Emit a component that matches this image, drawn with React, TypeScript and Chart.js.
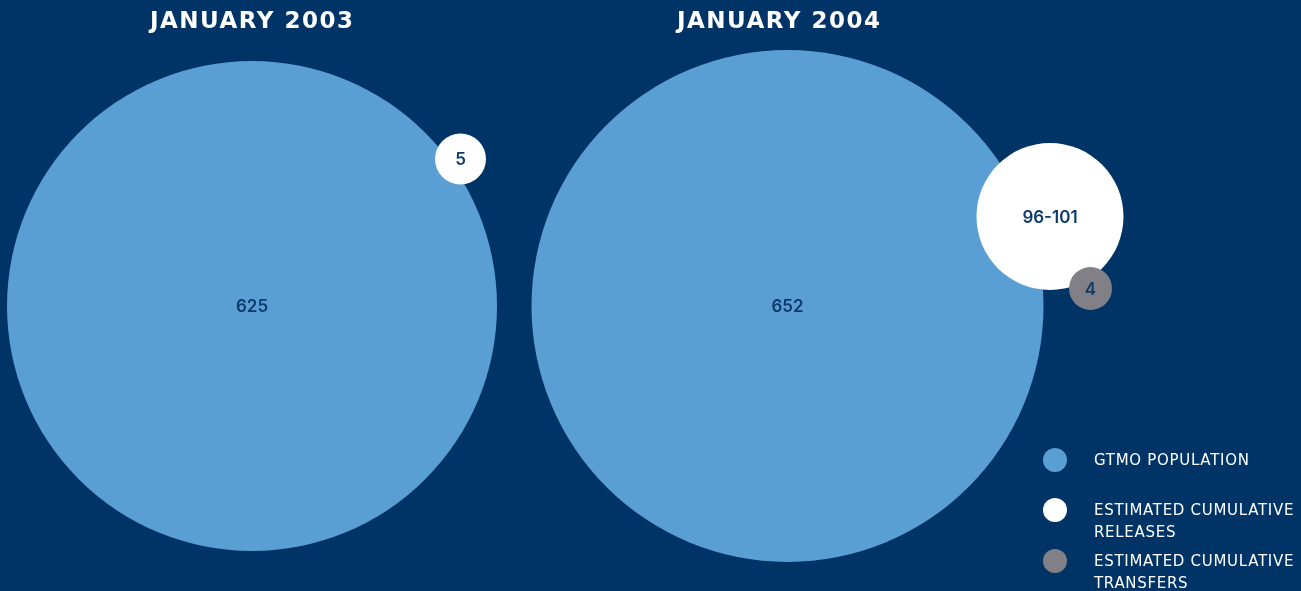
import React, { useEffect, useRef } from "react";
import { Chart, registerables } from "chart.js";

Chart.register(...registerables);

// ---- data ----
const periods = ["JANUARY 2003", "JANUARY 2004"];
const gtmoPopulation = [625, 652];
const releaseValues = [5, 98.5];
const releaseLabels = ["5", "96-101"];
const transferValues = [null, 4];
const transferLabels = ["", "4"];
const legendLabels = [
  ["GTMO POPULATION"],
  ["ESTIMATED CUMULATIVE", "RELEASES"],
  ["ESTIMATED CUMULATIVE", "TRANSFERS"],
];

// ---- layout (layout units on hidden 0..1301 × 0..591 scales) ----
const periodCenterX = [251.5, 778.5];
const popCenter = [
  { x: 252, y: 306 },
  { x: 787.5, y: 306 },
];
const releaseCenter = [
  { x: 460.5, y: 159 },
  { x: 1050, y: 216.5 },
];
const transferCenter = [null, { x: 1090.5, y: 288.5 }];
const popRadius = [245, 256];
const releaseRadius = [25.5, 73.5];
const transferRadius = [0, 21.5];

const BG = "#003466";
const BLUE = "#5a9fd3";
const WHITE = "#ffffff";
const GRAY = "#808086";
const NAVY = "#0c3b6c";

const W = 1301;
const H = 591;

const labelsPlugin = {
  id: "bubbleLabels",
  afterDatasetsDraw(chart: any) {
    const ctx = chart.ctx;
    const xs = chart.scales.x;
    const ys = chart.scales.y;
    const sx = chart.width / W;
    ctx.save();
    // titles
    ctx.fillStyle = "#ffffff";
    ctx.textAlign = "center";
    ctx.textBaseline = "middle";
    ctx.font = `bold ${Math.round(23 * sx)}px "DejaVu Sans", sans-serif`;
    (ctx as any).letterSpacing = "1.5px";
    periods.forEach((p, i) => {
      ctx.fillText(p, xs.getPixelForValue(periodCenterX[i]) + 0.75, ys.getPixelForValue(22));
    });
    (ctx as any).letterSpacing = "0px";
    // bubble labels
    ctx.fillStyle = NAVY;
    ctx.font = `600 ${17 * sx}px Inter, "DejaVu Sans", sans-serif`;
    chart.data.datasets.forEach((ds: any, di: number) => {
      const meta = chart.getDatasetMeta(di);
      meta.data.forEach((el: any, i: number) => {
        const raw = ds.data[i];
        if (!raw || !raw.label) return;
        ctx.fillText(raw.label, el.x, el.y + 1);
      });
    });
    // legend
    const colors = [BLUE, WHITE, GRAY];
    const legendY = [460, 510, 561];
    ctx.textAlign = "left";
    ctx.font = `${15 * sx}px "DejaVu Sans", sans-serif`;
    (ctx as any).letterSpacing = "0.7px";
    legendLabels.forEach((lines, i) => {
      const cy = ys.getPixelForValue(legendY[i]);
      ctx.fillStyle = colors[i];
      ctx.beginPath();
      ctx.arc(xs.getPixelForValue(1055), cy, 12 * sx, 0, Math.PI * 2);
      ctx.fill();
      ctx.fillStyle = "#ffffff";
      lines.forEach((ln, j) => {
        ctx.fillText(ln, xs.getPixelForValue(1094), cy + j * 22 * sx + 1);
      });
    });
    ctx.restore();
  },
};

type Pt = { x: number; y: number; value: number; label: string; idx: number };

function buildPoints(
  values: (number | null)[],
  labels: string[],
  centers: ({ x: number; y: number } | null)[]
): Pt[] {
  const out: Pt[] = [];
  values.forEach((v, i) => {
    const c = centers[i];
    if (v == null || !c) return;
    out.push({ x: c.x, y: c.y, value: v, label: labels[i], idx: i });
  });
  return out;
}

export default function App() {
  const ref = useRef<HTMLCanvasElement | null>(null);
  useEffect(() => {
    if (!ref.current) return;
    const radiusFn = (arr: number[]) => (c: any) =>
      c.raw ? arr[c.raw.idx] * (c.chart.width / W) : 0;
    const chart = new Chart(ref.current, {
      type: "bubble",
      data: {
        datasets: [
          {
            label: "GTMO POPULATION",
            data: buildPoints(gtmoPopulation, gtmoPopulation.map(String), popCenter) as any,
            backgroundColor: BLUE,
            borderWidth: 0,
            radius: radiusFn(popRadius) as any,
            clip: false as any,
            order: 3,
          },
          {
            label: "ESTIMATED CUMULATIVE RELEASES",
            data: buildPoints(releaseValues, releaseLabels, releaseCenter) as any,
            backgroundColor: WHITE,
            borderWidth: 0,
            radius: radiusFn(releaseRadius) as any,
            clip: false as any,
            order: 2,
          },
          {
            label: "ESTIMATED CUMULATIVE TRANSFERS",
            data: buildPoints(transferValues, transferLabels, transferCenter) as any,
            backgroundColor: GRAY,
            borderWidth: 0,
            radius: radiusFn(transferRadius) as any,
            clip: false as any,
            order: 1,
          },
        ],
      },
      options: {
        animation: false,
        responsive: true,
        maintainAspectRatio: false,
        layout: { padding: 0, autoPadding: false },
        plugins: { legend: { display: false }, tooltip: { enabled: false }, title: { display: false } },
        scales: {
          x: { type: "linear", display: false, min: 0, max: W },
          y: { type: "linear", display: false, min: 0, max: H, reverse: true },
        },
      },
      plugins: [labelsPlugin],
    });
    return () => chart.destroy();
  }, []);
  return (
    <div style={{ position: "fixed", left: 0, top: 0, width: W, height: H, background: BG }}>
      <canvas ref={ref} />
    </div>
  );
}
